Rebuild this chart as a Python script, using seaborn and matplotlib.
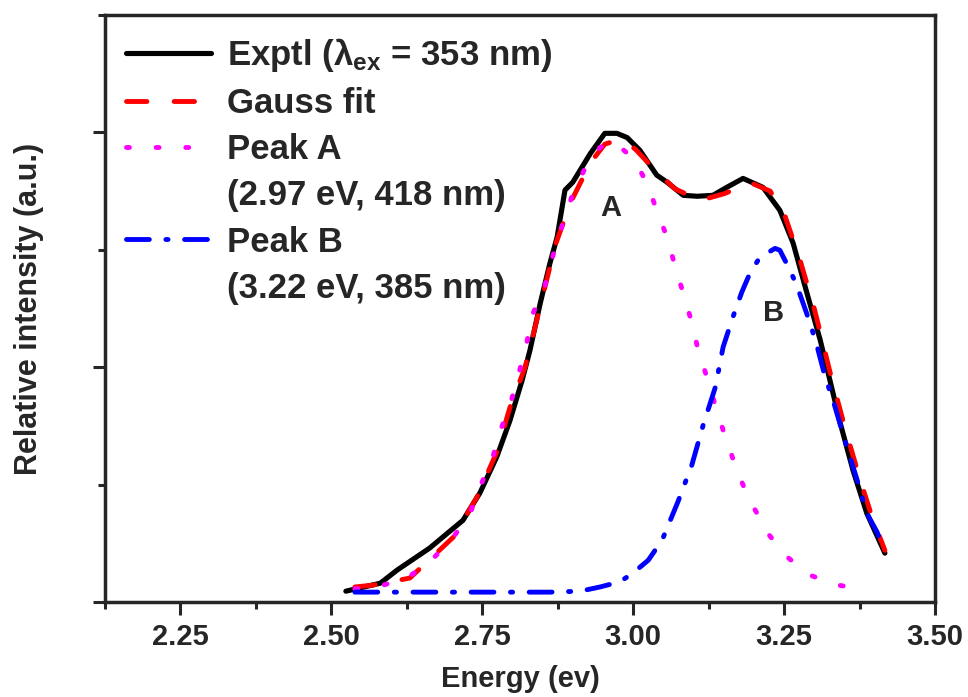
import numpy as np
import pandas as pd
import matplotlib
matplotlib.use("Agg")
import matplotlib.pyplot as plt
from matplotlib.lines import Line2D
from matplotlib.ticker import MultipleLocator, FormatStrFormatter
import seaborn as sns

# ---- data ----
exp_x = [2.524, 2.581, 2.609, 2.663, 2.718, 2.746, 2.774, 2.796, 2.816, 2.829, 2.846, 2.862,
         2.874, 2.887, 2.900, 2.929, 2.953, 2.973, 2.990, 3.011, 3.039, 3.056, 3.083, 3.106,
         3.132, 3.155, 3.182, 3.215, 3.243, 3.265, 3.288, 3.310, 3.331, 3.343, 3.364, 3.387, 3.417]
exp_y = [0.023, 0.040, 0.068, 0.115, 0.174, 0.232, 0.309, 0.387, 0.472, 0.536, 0.636, 0.721,
         0.777, 0.877, 0.894, 0.955, 0.998, 0.998, 0.989, 0.962, 0.909, 0.894, 0.866, 0.864,
         0.866, 0.883, 0.902, 0.883, 0.834, 0.764, 0.657, 0.557, 0.445, 0.381, 0.281, 0.189, 0.104]

fit_x = [2.539, 2.569, 2.630, 2.702, 2.741, 2.774, 2.796, 2.821, 2.846, 2.871, 2.896, 2.929,
         2.953, 2.978, 3.003, 3.036, 3.069, 3.111, 3.152, 3.194, 3.227, 3.252, 3.276, 3.301,
         3.326, 3.351, 3.376, 3.396, 3.417]
fit_y = [0.032, 0.036, 0.051, 0.138, 0.223, 0.319, 0.415, 0.500, 0.630, 0.760, 0.850, 0.935,
         0.975, 0.985, 0.965, 0.920, 0.880, 0.855, 0.870, 0.893, 0.875, 0.820, 0.730, 0.620,
         0.490, 0.370, 0.260, 0.180, 0.110]

pa_x = [2.539, 2.586, 2.625, 2.663, 2.702, 2.730, 2.746, 2.766, 2.779, 2.796, 2.821, 2.834,
        2.851, 2.862, 2.874, 2.890, 2.900, 2.925, 2.945, 2.967, 3.000, 3.023, 3.039, 3.056,
        3.069, 3.083, 3.096, 3.107, 3.122, 3.135, 3.149, 3.165, 3.182, 3.202, 3.225, 3.255,
        3.293, 3.339, 3.387]
pa_y = [0.028, 0.036, 0.051, 0.085, 0.138, 0.189, 0.245, 0.302, 0.362, 0.419, 0.536, 0.615,
        0.660, 0.713, 0.770, 0.830, 0.870, 0.936, 0.968, 0.981, 0.945, 0.892, 0.834, 0.777,
        0.717, 0.657, 0.600, 0.540, 0.479, 0.423, 0.366, 0.306, 0.249, 0.196, 0.143, 0.096,
        0.057, 0.036, 0.026]

pb_x = [2.539, 2.614, 2.697, 2.779, 2.862, 2.912, 2.945, 2.978, 3.000, 3.025, 3.048, 3.074,
        3.097, 3.116, 3.136, 3.149, 3.165, 3.180, 3.194, 3.210, 3.235, 3.243, 3.260, 3.271,
        3.281, 3.293, 3.305, 3.318, 3.331, 3.354, 3.371, 3.387, 3.404, 3.414]
pb_y = [0.021, 0.021, 0.021, 0.021, 0.021, 0.023, 0.032, 0.043, 0.062, 0.089, 0.132, 0.213,
        0.291, 0.377, 0.457, 0.543, 0.606, 0.660, 0.702, 0.734, 0.753, 0.749, 0.706, 0.674,
        0.638, 0.594, 0.543, 0.479, 0.430, 0.330, 0.260, 0.189, 0.149, 0.117]

labels = ["Exptl ($\\mathbf{\\lambda_{ex}}$ = 353 nm)", "Gauss fit",
          "Peak A", "(2.97 eV, 418 nm)", "Peak B", "(3.22 eV, 385 nm)"]
x_label = "Energy (ev)"
y_label = "Relative intensity (a.u.)"

# ---- style ----
sns.set_style("ticks")
plt.rcParams["font.family"] = ["Liberation Sans", "DejaVu Sans"]
plt.rcParams["font.weight"] = "bold"
plt.rcParams["mathtext.fontset"] = "custom"
plt.rcParams["mathtext.rm"] = "Liberation Sans:bold"
plt.rcParams["mathtext.bf"] = "Liberation Sans:bold"
plt.rcParams["mathtext.it"] = "Liberation Sans:bold"

fig = plt.figure(figsize=(9.68, 6.97), dpi=100)
ax = fig.add_axes([105 / 968, 1 - 602 / 697, 830 / 968, 587 / 697])

sns.lineplot(x=exp_x, y=exp_y, ax=ax, color="black", sort=False, zorder=2)
sns.lineplot(x=fit_x, y=fit_y, ax=ax, color="#ff0000", sort=False, zorder=3)
sns.lineplot(x=pa_x, y=pa_y, ax=ax, color="#ff00ff", sort=False, zorder=4)
sns.lineplot(x=pb_x, y=pb_y, ax=ax, color="#0000ff", sort=False, zorder=5)

lines = ax.get_lines()
lines[0].set_linewidth(3.7)
for ln in lines[1:]:
    ln.set_linewidth(3.5)
lines[1].set_dashes((4.2, 5.6))
lines[2].set_dashes((0.6, 5.5))
lines[3].set_dashes((4.7, 3.4, 0.45, 3.4))
for ln in lines[1:]:
    ln.set_dash_capstyle("round")
lines[0].set_solid_joinstyle("round")
lines[0].set_solid_capstyle("round")

ax.set_xlim(2.125, 3.5)
ax.set_ylim(0, 1.25)
ax.xaxis.set_major_locator(MultipleLocator(0.25))
ax.xaxis.set_minor_locator(MultipleLocator(0.125))
ax.xaxis.set_major_formatter(FormatStrFormatter("%.2f"))
ax.yaxis.set_major_locator(MultipleLocator(0.5))
ax.yaxis.set_minor_locator(MultipleLocator(0.25))
ax.set_yticklabels([])
ax.tick_params(axis="both", which="major", length=9, width=2.2, direction="out",
               labelsize=21, pad=6)
ax.tick_params(axis="both", which="minor", length=5, width=2.2, direction="out")
for lab in ax.get_xticklabels():
    lab.set_fontweight("bold")
for sp in ax.spines.values():
    sp.set_linewidth(2.5)
    sp.set_visible(True)

ax.set_xlabel(x_label, fontsize=21, fontweight="bold", labelpad=10)
ax.set_ylabel(y_label, fontsize=22, fontweight="bold", labelpad=29)

ax.text(2.963, 0.84, "A", fontsize=21, fontweight="bold", ha="center", va="center")
ax.text(3.232, 0.615, "B", fontsize=21, fontweight="bold", ha="center", va="center")

blank = Line2D([], [], color="none")
handles = [lines[0], lines[1], lines[2], blank, lines[3], blank]
leg = ax.legend(handles, labels, loc="upper left", frameon=False,
                prop={"weight": "bold", "size": 25}, handlelength=2.45,
                handletextpad=0.45, labelspacing=0.38, borderaxespad=0.3,
                borderpad=0.3)

fig.savefig("out.png", dpi=100)
